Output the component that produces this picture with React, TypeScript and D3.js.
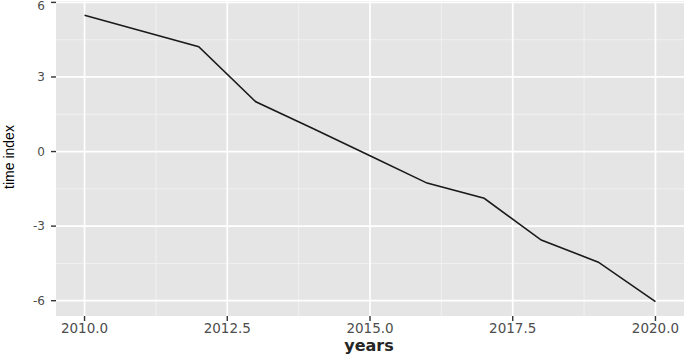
import React, { useEffect, useRef } from 'react';
import * as d3 from 'd3';

const years = [2010, 2011, 2012, 2013, 2014, 2015, 2016, 2017, 2018, 2019, 2020];
const timeIndex = [5.48, 4.85, 4.22, 2.0, 0.93, -0.17, -1.27, -1.88, -3.56, -4.45, -6.04];
const xTicks = [2010, 2012.5, 2015, 2017.5, 2020];
const xMinor = [2011.25, 2013.75, 2016.25, 2018.75];
const yTicks = [-6, -3, 0, 3, 6];
const yMinor = [-4.5, -1.5, 1.5, 4.5];

const W = 685;
const H = 354;

const App = () => {
  const svgRef = useRef<SVGSVGElement>(null);

  useEffect(() => {
    const svg = d3.select(svgRef.current);
    svg.selectAll('*').remove();

    const left = 56, right = 684, top = 1, bottom = 316;

    const [x0, x1] = d3.extent(years) as [number, number];
    const xPad = (x1 - x0) * 0.05;
    const x = d3.scaleLinear().domain([x0 - xPad, x1 + xPad]).range([left, right]);

    const [y0, y1] = d3.extent(timeIndex) as [number, number];
    const yPad = (y1 - y0) * 0.05;
    const y = d3.scaleLinear().domain([y0 - yPad, y1 + yPad]).range([bottom, top]);

    svg.append('rect')
      .attr('x', left).attr('y', top)
      .attr('width', right - left).attr('height', bottom - top)
      .attr('fill', '#e5e5e5');

    const grid = svg.append('g');
    grid.selectAll('.xmin').data(xMinor).enter().append('line')
      .attr('x1', d => x(d)).attr('x2', d => x(d))
      .attr('y1', top).attr('y2', bottom)
      .attr('stroke', '#f2f2f2').attr('stroke-width', 0.9);
    grid.selectAll('.ymin').data(yMinor).enter().append('line')
      .attr('x1', left).attr('x2', right)
      .attr('y1', d => y(d)).attr('y2', d => y(d))
      .attr('stroke', '#f2f2f2').attr('stroke-width', 0.9);
    grid.selectAll('.xmaj').data(xTicks).enter().append('line')
      .attr('x1', d => x(d)).attr('x2', d => x(d))
      .attr('y1', top).attr('y2', bottom)
      .attr('stroke', '#ffffff').attr('stroke-width', 1.7);
    grid.selectAll('.ymaj').data(yTicks).enter().append('line')
      .attr('x1', left).attr('x2', right)
      .attr('y1', d => y(d)).attr('y2', d => y(d))
      .attr('stroke', '#ffffff').attr('stroke-width', 1.7);

    const line = d3.line<number>()
      .x((_, i) => x(years[i]))
      .y(d => y(d));

    svg.append('path')
      .datum(timeIndex)
      .attr('d', line)
      .attr('fill', 'none')
      .attr('stroke', '#1a1a1a')
      .attr('stroke-width', 1.6);

    // axes
    const xAxis = svg.append('g');
    xAxis.selectAll('line').data(xTicks).enter().append('line')
      .attr('x1', d => x(d)).attr('x2', d => x(d))
      .attr('y1', bottom).attr('y2', bottom + 5)
      .attr('stroke', '#333').attr('stroke-width', 1.4);
    xAxis.selectAll('text').data(xTicks).enter().append('text')
      .attr('x', d => x(d)).attr('y', 333)
      .attr('text-anchor', 'middle')
      .attr('font-family', 'DejaVu Sans')
      .attr('font-size', 13.5)
      .attr('fill', '#4d4d4d')
      .text(d => d.toFixed(1));

    const yAxis = svg.append('g');
    yAxis.selectAll('line').data(yTicks).enter().append('line')
      .attr('x1', left - 5).attr('x2', left)
      .attr('y1', d => y(d)).attr('y2', d => y(d))
      .attr('stroke', '#333').attr('stroke-width', 1.4);
    yAxis.selectAll('text').data(yTicks).enter().append('text')
      .attr('x', 45).attr('y', d => Math.max(y(d) + 4.3, 9.5))
      .attr('text-anchor', 'end')
      .attr('font-family', 'DejaVu Sans')
      .attr('font-size', 12)
      .attr('fill', '#4d4d4d')
      .text(d => String(d));

    svg.append('text')
      .attr('x', 369).attr('y', 351)
      .attr('text-anchor', 'middle')
      .attr('font-family', 'DejaVu Sans')
      .attr('font-weight', 'bold')
      .attr('font-size', 16)
      .attr('fill', '#262626')
      .text('years');

    svg.append('text')
      .attr('transform', 'translate(14,157) rotate(-90)')
      .attr('text-anchor', 'middle')
      .attr('font-family', 'Liberation Sans')
      .attr('font-size', 14)
      .attr('fill', '#000')
      .text('time index');
  }, []);

  return (
    <svg ref={svgRef} width={W} height={H}
      style={{ position: 'absolute', left: 0, top: 0 }} />
  );
};

export default App;
